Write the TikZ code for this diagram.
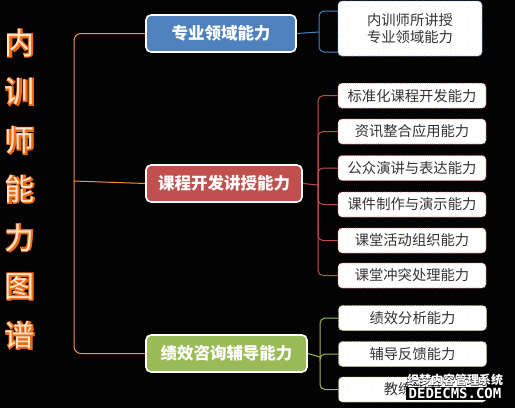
\documentclass[tikz,border=0pt]{standalone}
\usepackage{fontspec}
\usetikzlibrary{patterns.meta}
\newfontfamily\cjk{Noto Sans CJK SC}
\newfontfamily\glowfont[FakeBold=3]{Noto Sans CJK SC}
\newfontfamily\wmglow[FakeBold=2]{Noto Sans CJK SC}
\newfontfamily\wmono{DejaVu Sans Mono}
\definecolor{bgblack}{HTML}{030303}
\definecolor{oline}{HTML}{F7913C}
\definecolor{bluef}{HTML}{4F81BD}
\definecolor{redf}{HTML}{C0504D}
\definecolor{greenf}{HTML}{9BBB59}
\definecolor{blueb}{HTML}{7FA7DA}
\definecolor{redb}{HTML}{D9706C}
\definecolor{greenb}{HTML}{A6C46A}
\definecolor{txt}{HTML}{333333}
\definecolor{glowo}{HTML}{F06A12}
\definecolor{glowi}{HTML}{FFE2C4}
\tikzset{
  mainbox/.style={draw=white, line width=1.6pt, rounded corners=5pt, text=white,
    font=\cjk\bfseries\fontsize{16.5}{18}\selectfont, inner sep=0pt},
  detbox/.style={line width=0.8pt, densely dotted, rounded corners=4pt, text=txt,
    fill=white, postaction={pattern={Dots[distance=6pt, radius=0.45pt]}, pattern color=black!22},
    font=\cjk\fontsize{14.3}{17.5}\selectfont, inner sep=0pt, minimum width=148pt, minimum height=25pt},
  tglow/.style={text=glowo, font=\glowfont\bfseries\fontsize{30}{30}\selectfont, inner sep=0pt},
  tcore/.style={text=glowi, font=\cjk\fontsize{30}{30}\selectfont, inner sep=0pt},
  conn/.style={line width=1pt, rounded corners=5pt},
}
\begin{document}
\begin{tikzpicture}[x=1pt,y=-1pt]
\fill[bgblack] (0,0) rectangle (515,408);
\useasboundingbox (0,0) rectangle (515,408);

% title
\foreach \c [count=\i] in {内,训,师,能,力,图,谱} {
  \node[tglow] (tg\i) at (20,{43+(\i-1)*48.7}) {\c};
  \node[tcore] (t\i) at (20,{43+(\i-1)*48.7}) {\c};
}

% main boxes
\node[mainbox, fill=bluef, minimum width=150pt, minimum height=37pt] (blue) at (221,33.5) {专业领域能力};
\node[mainbox, fill=redf, minimum width=156pt, minimum height=37pt] (red) at (224,183.5) {课程开发讲授能力};
\node[mainbox, fill=greenf, minimum width=161pt, minimum height=37pt] (green) at (226.5,353.5) {绩效咨询辅导能力};

% orange bracket
\coordinate (oj) at (74,181);
\draw[oline, line width=1pt, rounded corners=7pt] (blue.west) -| (oj) |- (green.west);
\draw[oline, line width=1pt] (oj) -- (red.west);

% blue detail
\node[detbox, draw=blueb, minimum width=144pt, minimum height=55pt, align=center] (d0) at (410,28.5) {内训师所讲授\\专业领域能力};
\coordinate (bj) at (319,32);
\coordinate (bt) at (338,11);
\coordinate (bb) at (338,52);
\draw[bluef, line width=1pt] (blue.east) -- (bj);
\draw[bluef, conn] (bt) -| (bj) |- (bb);

% red details
\foreach \t/\y [count=\i] in {标准化课程开发能力/95.7, 资讯整合应用能力/131.5, 公众演讲与表达能力/168, 课件制作与演示能力/204.5, 课堂活动组织能力/240.5, 课堂冲突处理能力/275.5} {
  \node[detbox, draw=redb] (r\i) at (412,\y) {\t};
}
\coordinate (rj) at (318,185);
\draw[redf, line width=1pt] (red.east) -- (rj);
\foreach \i in {1,...,6} { \draw[redf, conn] (rj) |- (r\i.west); }

% green details
\foreach \t/\y [count=\i] in {绩效分析能力/318, 辅导反馈能力/354, 教练能力/389.5} {
  \node[detbox, draw=greenb] (g\i) at (412.5,\y) {\t};
}
\coordinate (gj) at (320,357);
\draw[greenf, line width=1pt] (green.east) -- (gj);
\foreach \i in {1,...,3} { \draw[greenf, conn] (gj) |- (g\i.west); }

% watermark
\fill[black] (406,386.5) rectangle (504,399.5);
\node[text=black, font=\wmglow\bfseries\fontsize{12}{12}\selectfont, inner sep=0pt] (wk) at (455,380) {织梦内容管理系统};
\node[text=white, font=\cjk\bfseries\fontsize{12}{12}\selectfont, inner sep=0pt] (wm1) at (455,380) {织梦内容管理系统};
\node[text=white, font=\wmono\bfseries\fontsize{14}{14}\selectfont, inner sep=0pt] (wm2) at (455,393) {DEDECMS.COM};
\end{tikzpicture}
\end{document}
